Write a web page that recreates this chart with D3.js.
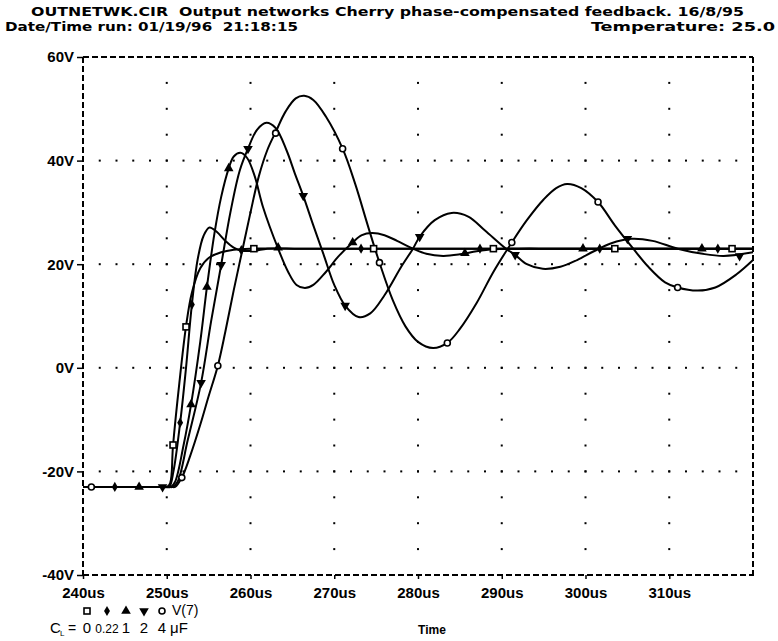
<!DOCTYPE html>
<html><head><meta charset="utf-8">
<script src="https://cdn.jsdelivr.net/npm/d3@7/dist/d3.min.js"></script>
<style>
html,body{margin:0;padding:0;background:#fff;}
svg text{white-space:pre;}
</style></head>
<body><svg id="chart" width="778" height="641"></svg>
<script>
// ---- data (time in us, voltage in V) ----
const xTicks = [240,250,260,270,280,290,300,310];
const yTicks = [-40,-20,0,20,40,60];
const legendValues = ["0","0.22","1","2","4"];

const seriesCL0 = [[240,-23],[245,-23],[249.5,-23],[250,-23],[250.4,-22.3],[250.75,-15],[251.5,-3],[252.3,8],[253,14.5],[254,19.2],[255,21.2],[256.5,22.3],[258,22.8],[260,23],[265,23],[280,23],[300,23],[320,23]];
const seriesCL022 = [[240,-23],[245,-23],[249.8,-23],[250.3,-23],[250.8,-20],[251.6,-10.6],[252.3,0],[253,12.2],[253.7,21],[254.4,25.5],[255.1,27.1],[256,26.2],[257,24.5],[258,23.2],[259,22.6],[260.5,22.6],[262,23],[266,23],[280,23],[300,23],[320,23]];
const seriesCL1 = [[240,-23],[245,-23],[250,-23],[250.5,-23],[251,-22],[252,-15],[252.9,-7.1],[254,5],[254.8,15.6],[255.7,26],[256.5,33],[257.4,38.5],[258,40.8],[258.8,41.5],[259.6,40.5],[260.5,37],[261.5,31],[263.3,23],[264.5,18.5],[265.5,16],[266.5,15.4],[267.5,16],[269,18.5],[270.5,21.5],[272.2,24.2],[273.3,25.6],[274.5,26],[276,25.6],[277.5,24.5],[279.4,23],[281,22],[283,21.6],[285,21.9],[287,22.5],[289,22.9],[292,23],[296,23],[305,23],[320,23]];
const seriesCL2 = [[240,-23],[245,-23],[250.2,-23],[250.7,-23],[251.3,-22],[252.5,-14],[254.1,-2.9],[255.3,9],[256.5,19.9],[257.6,30],[258.7,38],[259.7,42.3],[260.8,46],[261.9,47.3],[263,46.3],[264.3,42],[265.3,37.5],[266.3,33.2],[267.5,27.5],[268.7,22],[270,16],[271.3,12],[272.9,9.8],[274.3,10.5],[276,14],[278,19.5],[279.4,23],[280.2,25.3],[282,28.5],[284,29.9],[286,29.2],[288,26.5],[290.5,23],[291.6,21.8],[293,20],[294.9,19.1],[297,19.5],[299,20.8],[301,22.5],[303,24],[305.5,24.9],[308,24.5],[311,23],[314,22],[316.5,21.6],[320,22.3]];
const seriesCL4 = [[240,-23],[245,-23],[250.5,-23],[251,-23],[251.8,-21.2],[252.8,-17],[254,-11],[255,-5.5],[256.1,0.4],[257,7],[258,15],[259,22.5],[260,30],[261,37],[262,42],[263,45.5],[264.2,49.5],[265.4,52],[266.4,52.5],[267.5,51.7],[269,48.5],[271,42.3],[272.5,35.5],[274,27.5],[275.4,20.3],[277,13],[278.5,8],[280,5],[281.8,3.8],[283.5,4.8],[285,7.5],[287,12.5],[289,18.5],[291.2,24.2],[293,28.5],[295,32.5],[296.5,34.7],[297.8,35.5],[299.5,34.7],[301.5,32],[303.5,27.5],[305.7,23],[307.5,19.5],[309.5,16.5],[311,15.5],[313.4,14.9],[315.5,15.5],[318,18],[320,20.8]];

const markersCL0 = [[250.75,-14.9],[252.3,7.9],[260.4,23],[274.7,23],[289,23],[303.5,23],[317.5,23]];
const markersCL022 = [[243.8,-23],[251.6,-10.6],[253,12.2],[258.9,22.7],[273.2,23],[287.4,23],[301.7,23],[315.8,23]];
const markersCL1 = [[246.7,-23],[252.9,-7.1],[254.8,15.6],[257.4,38.5],[263.3,23.2],[272.2,24.2],[285.6,22.1],[299.7,23],[313.9,23]];
const markersCL2 = [[249.5,-23],[254.1,-2.9],[256.5,19.9],[259.7,42.3],[266.3,33.2],[271.3,12],[280.2,25.3],[291.6,21.8],[305,24.9],[318.4,21.6]];
const markersCL4 = [[241,-23],[251.8,-21.2],[256.1,0.4],[263,45.3],[271,42.3],[275.4,20.3],[283.5,4.8],[291.2,24.2],[301.5,32],[311,15.5]];

const series = [
  {name:"0", pts:seriesCL0, marks:markersCL0, sym:"square"},
  {name:"0.22", pts:seriesCL022, marks:markersCL022, sym:"diamond"},
  {name:"1", pts:seriesCL1, marks:markersCL1, sym:"up"},
  {name:"2", pts:seriesCL2, marks:markersCL2, sym:"down"},
  {name:"4", pts:seriesCL4, marks:markersCL4, sym:"circle"}
];

// ---- layout ----
const svg = d3.select("#chart");
const L = 83, R = 753, T = 57, B = 575;
const x = d3.scaleLinear().domain([240,320]).range([L,R]);
const y = d3.scaleLinear().domain([-40,60]).range([B,T]);
const sansB = "'Liberation Sans', Arial, sans-serif";

// titles
const tfont = "'DejaVu Sans Condensed','DejaVu Sans',sans-serif";
svg.append("text").attr("x",31).attr("y",16).attr("font-family",tfont).attr("font-weight","bold").attr("font-size",13)
  .attr("textLength",713).attr("lengthAdjust","spacingAndGlyphs")
  .text("OUTNETWK.CIR  Output networks Cherry phase-compensated feedback. 16/8/95");
svg.append("text").attr("x",5).attr("y",31).attr("font-family",tfont).attr("font-weight","bold").attr("font-size",13)
  .attr("textLength",293).attr("lengthAdjust","spacingAndGlyphs")
  .text("Date/Time run: 01/19/96  21:18:15");
svg.append("text").attr("x",591).attr("y",31).attr("font-family",tfont).attr("font-weight","bold").attr("font-size",13)
  .attr("textLength",184).attr("lengthAdjust","spacingAndGlyphs")
  .text("Temperature: 25.0");

// grid dots
const gGrid = svg.append("g").attr("fill","#000");
yTicks.filter(v=>v>-40 && v<60).forEach(v=>{
  d3.range(242,320,2).forEach(t=>{
    gGrid.append("rect").attr("x",x(t)-1).attr("y",y(v)-1).attr("width",2).attr("height",2);
  });
});
xTicks.filter(t=>t>240).forEach(t=>{
  d3.range(-35,60,5).forEach(v=>{
    gGrid.append("rect").attr("x",x(t)-1).attr("y",y(v)-1).attr("width",2).attr("height",2);
  });
});

// frame (dashed)
const frame = svg.append("g").attr("stroke","#000").attr("stroke-width",2).attr("stroke-dasharray","6,3").attr("fill","none");
frame.append("line").attr("x1",L).attr("x2",R).attr("y1",T).attr("y2",T);
frame.append("line").attr("x1",L).attr("x2",R).attr("y1",B).attr("y2",B);
frame.append("line").attr("x1",L).attr("x2",L).attr("y1",T).attr("y2",B+4);
frame.append("line").attr("x1",R).attr("x2",R).attr("y1",T).attr("y2",B+3);

// axes
const ax = svg.append("g").attr("transform",`translate(0,${B})`)
  .call(d3.axisBottom(x).tickValues(xTicks).tickFormat(d=>d+"us").tickSize(4).tickPadding(8));
ax.select(".domain").remove();
ax.selectAll("line").attr("stroke-width",1.5);
ax.selectAll("text").attr("font-family",sansB).attr("font-weight","bold").attr("font-size",15).attr("fill","#000");

const ay = svg.append("g").attr("transform",`translate(${L},0)`)
  .call(d3.axisLeft(y).tickValues(yTicks).tickFormat(d=>d+"V").tickSize(6).tickPadding(3));
ay.select(".domain").remove();
ay.selectAll("line").attr("stroke-width",1.5);
ay.selectAll("text").attr("font-family",sansB).attr("font-weight","bold").attr("font-size",15).attr("fill","#000");

// curves
const line = d3.line().x(d=>x(d[0])).y(d=>y(d[1])).curve(d3.curveCatmullRom.alpha(0.5));
svg.append("g").selectAll("path").data(series).join("path")
  .attr("d",d=>line(d.pts)).attr("fill","none").attr("stroke","#000").attr("stroke-width",2);

// markers
function drawMarker(g, sym, cx, cy){
  if(sym==="square"){
    g.append("rect").attr("x",cx-3).attr("y",cy-3).attr("width",6).attr("height",6)
      .attr("fill","#fff").attr("stroke","#000").attr("stroke-width",1.6);
  } else if(sym==="diamond"){
    g.append("path").attr("d",d3.symbol(d3.symbolDiamond,30)()).attr("transform",`translate(${cx},${cy})`).attr("fill","#000");
  } else if(sym==="up"){
    g.append("path").attr("d",d3.symbol(d3.symbolTriangle,40)()).attr("transform",`translate(${cx},${cy})`).attr("fill","#000");
  } else if(sym==="down"){
    g.append("path").attr("d",d3.symbol(d3.symbolTriangle,40)()).attr("transform",`translate(${cx},${cy}) rotate(180)`).attr("fill","#000");
  } else {
    g.append("circle").attr("cx",cx).attr("cy",cy).attr("r",3)
      .attr("fill","#fff").attr("stroke","#000").attr("stroke-width",1.6);
  }
}
const gm = svg.append("g");
series.forEach(s=>s.marks.forEach(m=>drawMarker(gm,s.sym,x(m[0]),y(m[1]))));

// legend
const legX = [87,107,126,144,162];
const gl = svg.append("g");
series.forEach((s,i)=>drawMarker(gl,s.sym,legX[i],611));
gl.append("text").attr("x",172).attr("y",615).attr("font-family",sansB).attr("font-size",14).text("V(7)");
gl.append("text").attr("x",50).attr("y",633).attr("font-family",sansB).attr("font-size",15).text("C");
gl.append("text").attr("x",60).attr("y",636).attr("font-family",sansB).attr("font-size",8).text("L");
gl.append("text").attr("x",72).attr("y",633).attr("text-anchor","middle").attr("font-family",sansB).attr("font-size",14).text("=");
legendValues.forEach((v,i)=>{
  gl.append("text").attr("x",legX[i]).attr("y",633).attr("text-anchor","middle").attr("font-family",sansB)
    .attr("font-size",v.length>1?12:15).text(v);
});
gl.append("text").attr("x",170).attr("y",633).attr("font-family",sansB).attr("font-size",15).text("μF");

svg.append("text").attr("x",432).attr("y",634).attr("text-anchor","middle").attr("font-family",sansB)
  .attr("font-weight","bold").attr("font-size",12).text("Time");
</script></body></html>
